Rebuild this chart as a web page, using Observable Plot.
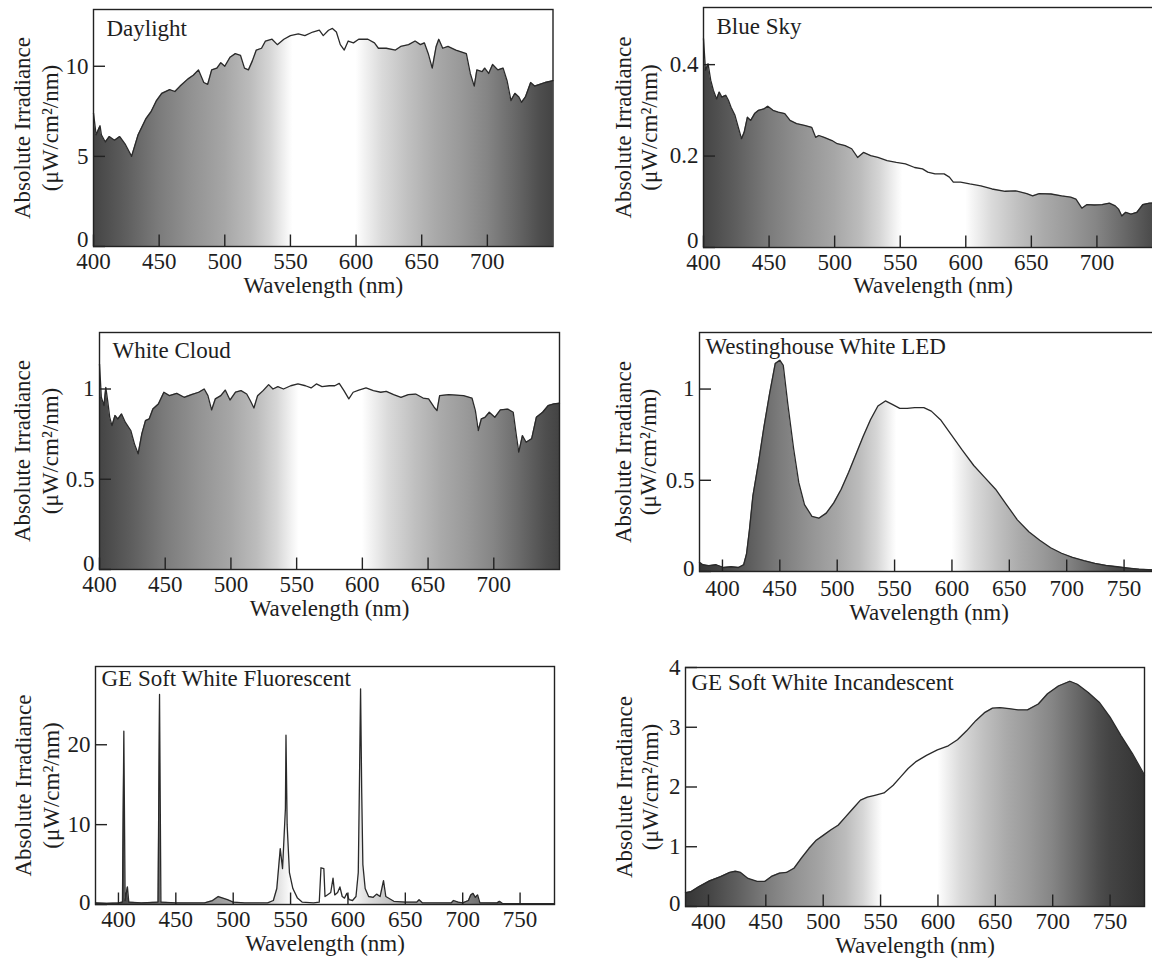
<!DOCTYPE html>
<html><head><meta charset="utf-8">
<script src="https://cdn.jsdelivr.net/npm/d3@7"></script>
<script src="https://cdn.jsdelivr.net/npm/@observablehq/plot@0.6"></script>
<style>
html,body{margin:0;padding:0;width:1152px;height:959px;overflow:hidden;background:#fff;}
.panel{position:absolute;}
</style></head><body>
<div id="root"></div>
<script>
// ---- texts ----
const titles = ["Daylight", "Blue Sky", "White Cloud", "Westinghouse White LED", "GE Soft White Fluorescent", "GE Soft White Incandescent"];
const xLabel = "Wavelength (nm)";
const yLabel1 = "Absolute Irradiance";
const yLabel2 = "(μW/cm²/nm)";

// ---- data ----
const daylightNm = [400,402,405,406,409,412,416,420,424,429,434,440,444,448,452,458,462,466,472,476,480,484,487,490,494,497,500,504,508,512,515,518,521,524,528,531,536,540,545,550,556,561,567,572,575,579,582,585,588,591,594,598,602,609,614,617,623,630,634,640,645,649,652,655,658,661,663,666,670,676,680,684,687,690,692,696,698,701,704,708,712,715,718,721,724,726,729,733,736,740,744,750];
const daylightVal = [7.4,6.2,6.7,6.2,5.8,6.1,5.9,6.1,5.7,5.0,6.2,7.1,7.5,8.1,8.5,8.7,8.6,8.9,9.3,9.5,9.8,9.1,9.0,9.8,9.9,10.2,10.0,10.5,10.7,10.6,9.9,9.8,10.3,10.9,11.0,11.4,11.5,11.2,11.5,11.7,11.8,11.7,11.9,12.0,11.7,12.0,12.1,11.9,11.2,10.9,11.4,11.3,11.5,11.5,11.3,11.0,11.0,10.9,11.1,11.2,11.4,11.2,11.3,10.7,9.9,11.1,11.5,11.0,11.1,10.9,10.8,10.7,9.6,8.9,9.8,9.7,9.9,9.6,10.1,9.8,9.9,9.2,8.1,8.5,8.3,8.0,8.3,9.1,8.9,9.0,9.1,9.2];

const blueSkyNm = [400,401.5,403.5,405.5,407.5,410,412,414,417,419,421,424,426.5,429,431,433.5,436,439,442,446,449,453,457,462,466,471,477,482.5,485.5,488,492,498,502,508,513,517.5,522,527.5,533,540,547,554,561,567,571,576.5,583.5,587.5,590.5,596,603,611.5,620,630,638,646.5,651,656,665,673,680,684,688.5,692.5,698,704,709.5,714,716.5,719,722,726,730.5,735,740,750];
const blueSkyVal = [0.457,0.388,0.402,0.366,0.344,0.325,0.34,0.329,0.333,0.322,0.307,0.289,0.263,0.238,0.252,0.285,0.278,0.293,0.300,0.303,0.309,0.300,0.296,0.293,0.278,0.271,0.267,0.263,0.241,0.245,0.241,0.234,0.227,0.223,0.216,0.197,0.208,0.201,0.197,0.190,0.186,0.183,0.175,0.172,0.165,0.161,0.161,0.154,0.143,0.143,0.139,0.135,0.128,0.123,0.124,0.118,0.113,0.118,0.117,0.113,0.110,0.106,0.086,0.094,0.093,0.094,0.097,0.091,0.084,0.069,0.077,0.073,0.077,0.094,0.097,0.098];

const cloudNm = [400,401.4,403.4,404.8,406.2,407.8,409.5,411.8,414,416.8,419.6,423.8,426.6,429.4,432.2,435,437.8,440.6,444.8,449,453.2,458.8,464.4,470,475.5,479.7,482.5,485.3,488.1,492.3,495.7,499.3,503.5,507.7,512,514.7,517.5,520.3,524.5,528.7,532,535.7,540,545.5,551,556.7,561,565,569.3,574.9,579,582.4,586,589.7,593,597.3,602.8,608.4,614,618.2,623.8,629.4,635,640.6,646.2,650.4,654.6,656.8,658.8,665.8,677,683.4,686,688.2,690.5,693.3,696.6,700.8,705,710.6,714.8,717,719,721.8,724.6,728.8,732.4,737.2,741.4,745.6,750];
const cloudVal = [1.138,0.954,0.908,1.009,0.936,0.843,0.797,0.853,0.834,0.862,0.816,0.77,0.696,0.641,0.751,0.825,0.834,0.889,0.917,0.982,0.963,0.976,0.954,0.969,0.982,1.0,0.963,0.884,0.945,0.963,0.994,0.939,0.982,0.991,0.972,0.936,0.895,0.963,0.991,1.024,1.0,1.013,1.0,1.018,1.028,1.018,1.006,1.028,1.013,1.018,1.018,1.031,0.991,0.945,0.982,0.994,1.006,0.991,0.982,0.987,0.969,0.954,0.969,0.972,0.95,0.945,0.899,0.88,0.963,0.969,0.963,0.95,0.88,0.77,0.834,0.843,0.871,0.843,0.884,0.889,0.871,0.751,0.65,0.742,0.705,0.724,0.843,0.871,0.908,0.917,0.921];

const ledNm = [380,383,388,394.5,401,407.5,414,418.5,421,423.5,426.5,431.5,436,441,446,450,453,457,462,466.5,471.5,478,484,490.5,497,503.5,510,516,522.5,529,535.5,542,548,554.5,561,567.5,575.5,582,590,599.5,609,619,628.5,638,647.5,657,667,676.5,686,695.5,705,715,724.5,734,744,753.5,763,775,780];
const ledVal = [0.05,0.037,0.032,0.037,0.022,0.026,0.022,0.037,0.097,0.227,0.413,0.6,0.786,0.972,1.14,1.158,1.13,0.916,0.674,0.488,0.367,0.302,0.292,0.32,0.376,0.451,0.544,0.637,0.739,0.832,0.907,0.935,0.916,0.894,0.894,0.898,0.898,0.879,0.832,0.749,0.665,0.581,0.516,0.451,0.367,0.283,0.218,0.171,0.13,0.1,0.078,0.06,0.045,0.034,0.026,0.019,0.013,0.009,0.008];

const fluorNm = [380,390,400,403.5,404.7,405.8,407.8,409,420,434.5,435.8,437,450,475,482,487,495,500,510,530,535,538,541,543,545.5,546,547,549,552,556,560,570,575,576.5,579,580,582,585,587,588.5,591,593,595,597,599,601,604,607,609,610,611,612,613,615,618,622,625,628,631,633,640,650,660,662,665,690,692,696,700,705,707,709,711,713,715,730,732,735,780];
const fluorVal = [0.2,0.15,0.2,0.3,21.7,0.5,2.2,0.3,0.2,0.3,26.3,0.3,0.2,0.2,0.5,1.0,0.6,0.3,0.2,0.2,0.5,2,7.0,4.5,12,21.2,10,4,2,0.8,0.3,0.2,0.3,4.6,4.5,1,1.2,1.5,3.3,1.2,1.5,2.2,1,0.8,1.4,0.6,0.5,1,4,15,27,14,5,2,1,0.9,1.3,1.0,3.0,1.0,0.4,0.3,0.3,0.6,0.2,0.2,0.5,0.3,0.2,0.5,1.2,1.4,0.9,1.2,0.2,0.2,0.4,0.1,0.1];

const incNm = [380,385,391.5,401,410.5,418.5,423.5,428,434.5,442.5,449,455.5,462,468,474.5,481,487.5,494,500,506.5,513,519.5,526,532.5,538.5,545,553,561,567.5,574,580.5,590,599.5,609,617,625,633,641,647.5,654,662,670,678,687.5,695.5,705,715,721.5,731,740.5,750,759.5,769.5,780];
const incVal = [0.23,0.25,0.33,0.43,0.5,0.57,0.59,0.57,0.47,0.42,0.42,0.51,0.56,0.57,0.64,0.81,0.97,1.11,1.19,1.28,1.36,1.5,1.64,1.78,1.83,1.86,1.9,2.03,2.17,2.31,2.42,2.53,2.62,2.69,2.79,2.94,3.11,3.25,3.32,3.33,3.31,3.29,3.29,3.39,3.56,3.69,3.77,3.72,3.58,3.42,3.17,2.86,2.56,2.2];

// ---- scales / ticks ----
const xDomains = [[400,750],[400,750],[400,750],[380,780],[380,780],[380,780]];
const yDomains = [[0,13.15],[0,0.525],[0,1.313],[0,1.31],[0,29.8],[0,4]];
const xTicks = [[400,450,500,550,600,650,700],[400,450,500,550,600,650,700],[400,450,500,550,600,650,700],[400,450,500,550,600,650,700,750],[400,450,500,550,600,650,700,750],[400,450,500,550,600,650,700,750]];
const yTicks = [[0,5,10],[0,0.2,0.4],[0,0.5,1],[0,0.5,1],[0,10,20],[0,1,2,3,4]];

// gradient: gray level by wavelength
const gradNm   = [380,400,425,450,475,500,520,535,548,552,600,608,620,640,660,680,700,720,740,750,780];
const gradGray = ["#363636","#444444","#5e5e5e","#7b7b7b","#929292","#a6a6a6","#bcbcbc","#d6d6d6","#f6f6f6","#ffffff","#ffffff","#f0f0f0","#dadada","#c0c0c0","#aaaaaa","#999999","#858585","#6a6a6a","#4e4e4e","#444444","#333333"];

const series = [[daylightNm,daylightVal],[blueSkyNm,blueSkyVal],[cloudNm,cloudVal],[ledNm,ledVal],[fluorNm,fluorVal],[incNm,incVal]];

// ---- layout (frame positions in page pixels) ----
const layout = [
  {L:92.5, T:9,   W:459.5, H:237, xPad:6, yPad:5, zeroDy:-7, tDx:13, tDy:26, xlDy:46, yl1:-71, yl2:-43},
  {L:703,  T:7,   W:459,   H:240, xPad:6, yPad:5, zeroDy:-7, tDx:13, tDy:26, xlDy:45, yl1:-80, yl2:-54},
  {L:99,   T:332, W:460,   H:237, xPad:6, yPad:5, zeroDy:-6, tDx:13, tDy:25, xlDy:46, yl1:-77, yl2:-49},
  {L:699,  T:332, W:459,   H:239, xPad:8, yPad:5, zeroDy:-3, tDx:6,  tDy:21.5, xlDy:48, yl1:-76, yl2:-51},
  {L:94.5, T:666, W:459,   H:238, xPad:6, yPad:5, zeroDy:-2, tDx:6,  tDy:19.5, xlDy:46, yl1:-72, yl2:-44},
  {L:684.5,T:667, W:459,   H:239, xPad:6, yPad:5, zeroDy:-3, tDx:6,  tDy:22, xlDy:46, yl1:-61, yl2:-35}
];

const FONT = "'Liberation Serif', 'Times New Roman', serif";
const FS = 23;
const INK = "#1e1e1e";
const root = document.getElementById("root");
const mL = 110, mT = 12, mR = 14, mB = 64;

series.forEach(([nm, val], i) => {
  const lay = layout[i];
  const data = nm.map((n, k) => ({nm: n, v: val[k]}));
  const yt = yTicks[i];
  const chart = Plot.plot({
    width: mL + lay.W + mR,
    height: mT + lay.H + mB,
    marginLeft: mL, marginTop: mT, marginRight: mR, marginBottom: mB,
    x: {domain: xDomains[i]},
    y: {domain: yDomains[i]},
    style: {fontFamily: FONT, fontSize: FS + "px", color: INK, background: "transparent", overflow: "visible", maxWidth: "none"},
    marks: [
      Plot.areaY(data, {x: "nm", y: "v", fill: `url(#grad${i})`, curve: "linear"}),
      Plot.lineY(data, {x: "nm", y: "v", stroke: "#2a2a2a", strokeWidth: 1.3}),
      Plot.tickX(xTicks[i], {x: d => d, insetTop: lay.H - 11.5, stroke: "#222", strokeWidth: 1.4}),
      Plot.tickY(yt, {y: d => d, insetRight: lay.W - 12, stroke: "#222", strokeWidth: 1.4}),
      Plot.frame({stroke: "#222", strokeWidth: 1.4}),
      Plot.axisX(xTicks[i], {anchor: "bottom", tickSize: 0, tickPadding: lay.xPad, tickFormat: d => String(d), label: null, fontSize: FS}),
      Plot.axisY(yt.filter(d => d !== 0), {anchor: "left", tickSize: 0, tickPadding: lay.yPad, tickFormat: d => String(d), label: null, fontSize: FS}),
      Plot.axisY([0], {anchor: "left", tickSize: 0, tickPadding: lay.yPad, tickFormat: d => String(d), label: null, fontSize: FS, dy: lay.zeroDy}),
      Plot.text([titles[i]], {text: d => d, frameAnchor: "top-left", dx: lay.tDx, dy: lay.tDy, lineAnchor: "bottom", textAnchor: "start", fontSize: FS, fill: INK}),
      Plot.text([xLabel], {text: d => d, frameAnchor: "bottom", dy: lay.xlDy, lineAnchor: "bottom", textAnchor: "middle", fontSize: FS, fill: INK}),
      Plot.text([yLabel1], {text: d => d, frameAnchor: "left", dx: lay.yl1, rotate: -90, lineAnchor: "middle", textAnchor: "middle", fontSize: FS, fill: INK}),
      Plot.text([yLabel2], {text: d => d, frameAnchor: "left", dx: lay.yl2, rotate: -90, lineAnchor: "middle", textAnchor: "middle", fontSize: FS, fill: INK})
    ]
  });
  // wavelength-based grayscale gradient in the chart's own x scale
  const xs = chart.scale("x");
  const x0 = xs.apply(380), x1 = xs.apply(780);
  const svg = d3.select(chart);
  const defs = svg.insert("defs", ":first-child");
  const g = defs.append("linearGradient").attr("id", `grad${i}`)
    .attr("gradientUnits", "userSpaceOnUse")
    .attr("x1", x0).attr("x2", x1).attr("y1", 0).attr("y2", 0);
  gradNm.forEach((w, k) => {
    g.append("stop").attr("offset", (w - 380) / 400).attr("stop-color", gradGray[k]);
  });
  const div = document.createElement("div");
  div.className = "panel";
  div.style.left = (lay.L - mL) + "px";
  div.style.top = (lay.T - mT) + "px";
  div.style.width = (mL + lay.W + mR) + "px";
  div.appendChild(chart);
  root.appendChild(div);
});
</script>
</body></html>
